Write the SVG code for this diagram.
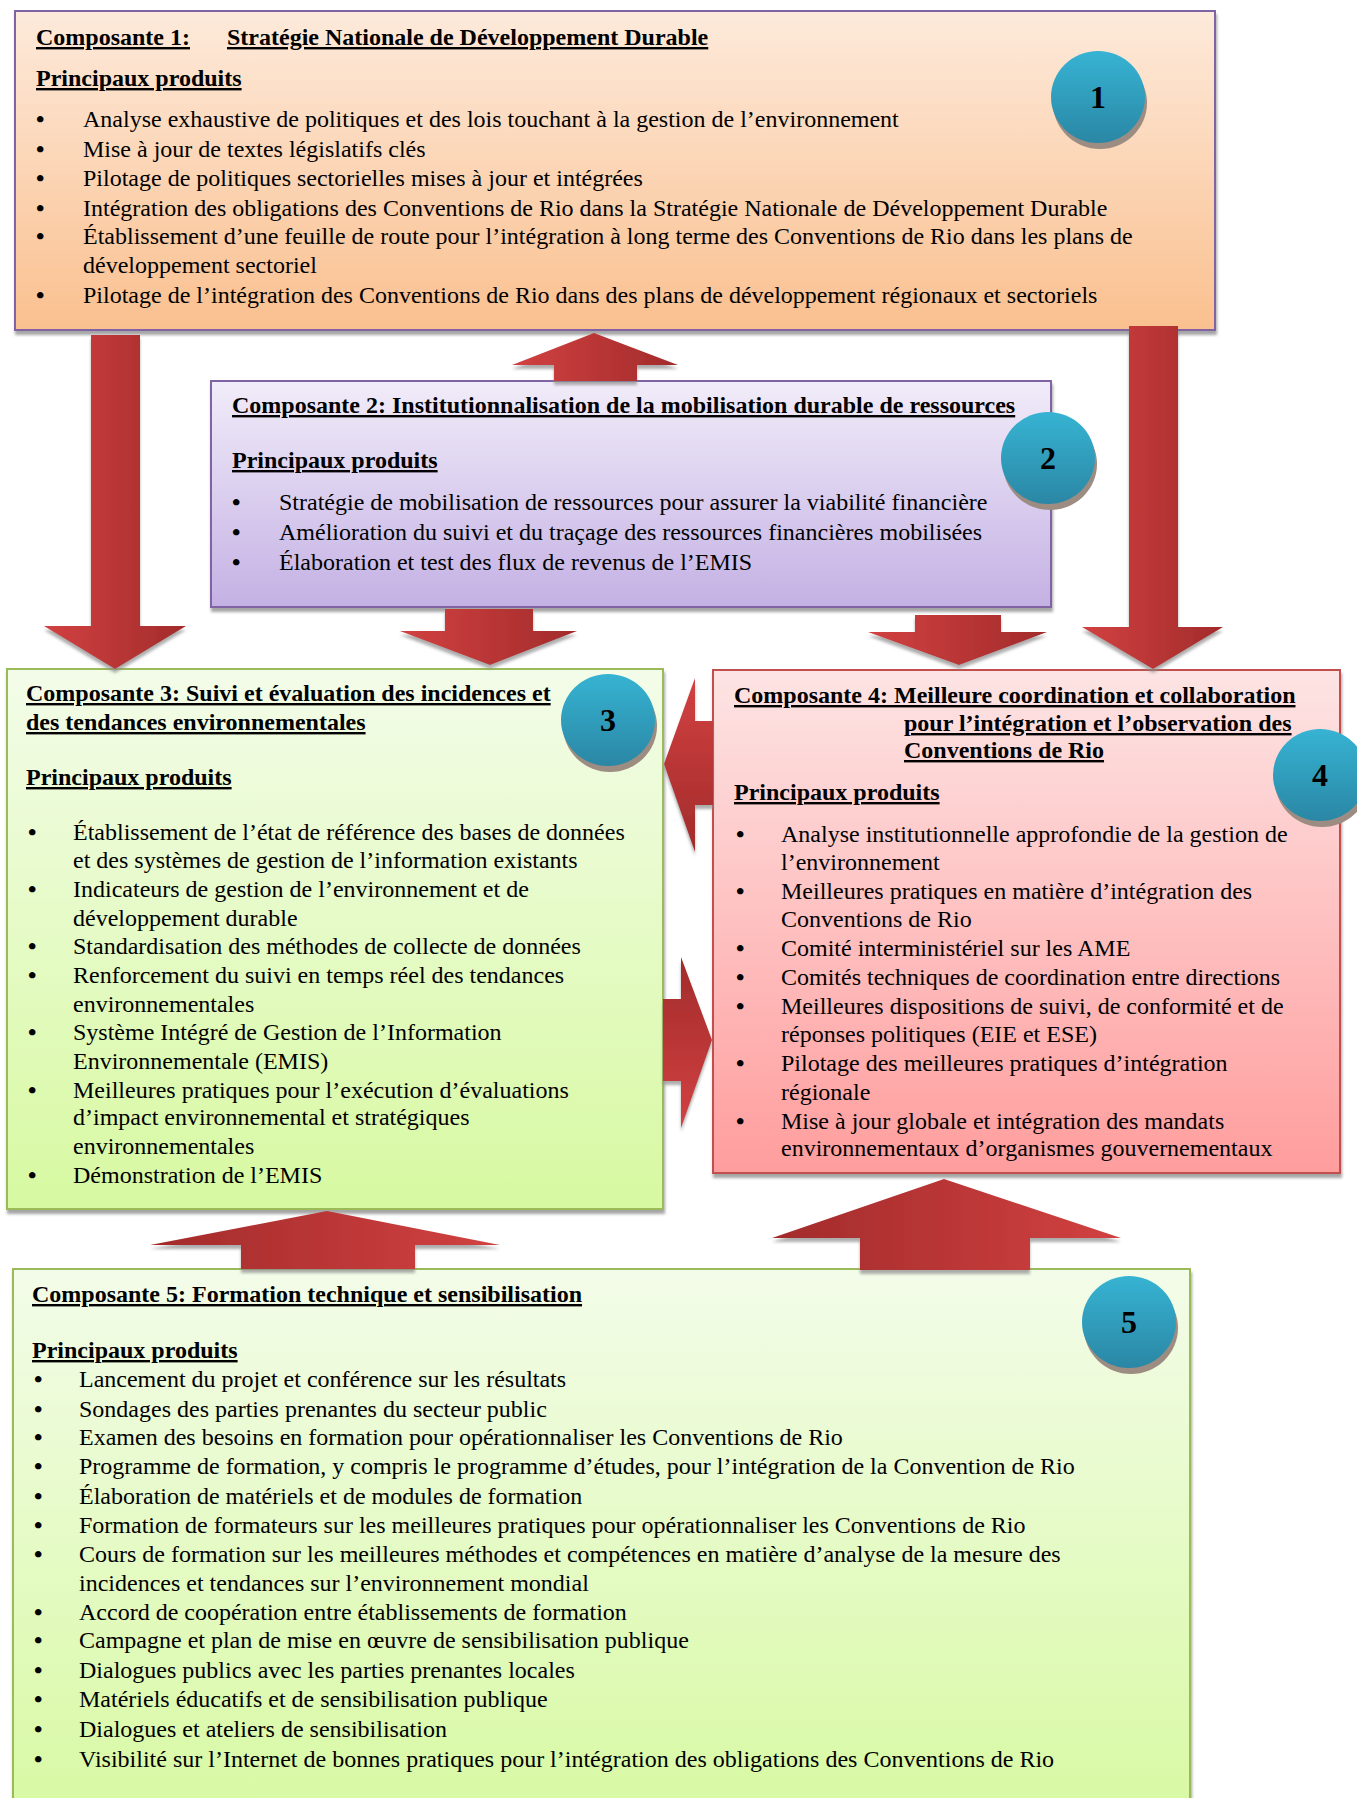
<svg xmlns="http://www.w3.org/2000/svg" width="1357" height="1798" viewBox="0 0 1357 1798">
<defs>
<linearGradient id="g1" x1="0" y1="0" x2="0" y2="1"><stop offset="0" stop-color="#fdeadb"/><stop offset="1" stop-color="#fac08f"/></linearGradient>
<linearGradient id="g2" x1="0" y1="0" x2="0" y2="1"><stop offset="0" stop-color="#f1ecf9"/><stop offset="1" stop-color="#c4b1e4"/></linearGradient>
<linearGradient id="g3" x1="0" y1="0" x2="0" y2="1"><stop offset="0" stop-color="#f3fce9"/><stop offset="1" stop-color="#d7f9a1"/></linearGradient>
<linearGradient id="g4" x1="0" y1="0" x2="0" y2="1"><stop offset="0" stop-color="#fde4e4"/><stop offset="1" stop-color="#ff9d9d"/></linearGradient>
<linearGradient id="gb" x1="0" y1="0" x2="0" y2="1"><stop offset="0" stop-color="#37b3d3"/><stop offset="1" stop-color="#2a87a5"/></linearGradient>
<linearGradient id="ad" x1="0" y1="0" x2="1" y2="0"><stop offset="0" stop-color="#d24141"/><stop offset="1" stop-color="#a22b2b"/></linearGradient>
<linearGradient id="au" x1="0" y1="0" x2="1" y2="0"><stop offset="0" stop-color="#a22b2b"/><stop offset="1" stop-color="#d24141"/></linearGradient>
<linearGradient id="al" x1="0" y1="0" x2="0" y2="1"><stop offset="0" stop-color="#d24141"/><stop offset="1" stop-color="#a22b2b"/></linearGradient>
<linearGradient id="ar" x1="0" y1="0" x2="0" y2="1"><stop offset="0" stop-color="#a22b2b"/><stop offset="1" stop-color="#d24141"/></linearGradient>
<filter id="sh" x="-5%" y="-5%" width="110%" height="115%"><feDropShadow dx="1" dy="4" stdDeviation="1.5" flood-color="#7f7f7f" flood-opacity="0.7"/></filter>
<filter id="ash" x="-10%" y="-10%" width="120%" height="125%"><feDropShadow dx="0" dy="4" stdDeviation="1.5" flood-color="#8a8a8a" flood-opacity="0.7"/></filter>
</defs>
<style>
text{font-family:"Liberation Serif","Times New Roman",serif;font-size:24px;fill:#000}
.t{font-weight:bold;text-decoration:underline}
.n{font-weight:bold;font-size:32px;text-anchor:middle}
.b{font-weight:bold}
.box{stroke-width:2}
</style>

<g id="node1">
<rect class="box" x="15" y="11" width="1200" height="319" fill="url(#g1)" stroke="#8064a2" filter="url(#sh)"/>
<text class="t" x="36" y="45">Composante 1:</text>
<text class="t" x="227" y="45">Stratégie Nationale de Développement Durable</text>
<text class="t" x="36" y="86">Principaux produits</text>
<text class="b" x="36" y="127">•</text><text x="83" y="127">Analyse exhaustive de politiques et des lois touchant à la gestion de l’environnement</text>
<text class="b" x="36" y="157">•</text><text x="83" y="157">Mise à jour de textes législatifs clés</text>
<text class="b" x="36" y="186">•</text><text x="83" y="186">Pilotage de politiques sectorielles mises à jour et intégrées</text>
<text class="b" x="36" y="216">•</text><text x="83" y="216">Intégration des obligations des Conventions de Rio dans la Stratégie Nationale de Développement Durable</text>
<text class="b" x="36" y="244">•</text><text x="83" y="244">Établissement d’une feuille de route pour l’intégration à long terme des Conventions de Rio dans les plans de</text>
<text x="83" y="273">développement sectoriel</text>
<text class="b" x="36" y="303">•</text><text x="83" y="303">Pilotage de l’intégration des Conventions de Rio dans des plans de développement régionaux et sectoriels</text>
<ellipse cx="1100" cy="103" rx="47" ry="46" fill="#9c8c82"/>
<ellipse cx="1098" cy="97" rx="47" ry="46" fill="url(#gb)"/>
<text class="n" x="1098" y="108">1</text>
</g>

<g id="node2">
<rect class="box" x="211" y="381" width="840" height="226" fill="url(#g2)" stroke="#8064a2" filter="url(#sh)"/>
<text class="t" x="232" y="413">Composante 2: Institutionnalisation de la mobilisation durable de ressources</text>
<text class="t" x="232" y="468">Principaux produits</text>
<text class="b" x="232" y="510">•</text><text x="279" y="510">Stratégie de mobilisation de ressources pour assurer la viabilité financière</text>
<text class="b" x="232" y="540">•</text><text x="279" y="540">Amélioration du suivi et du traçage des ressources financières mobilisées</text>
<text class="b" x="232" y="570">•</text><text x="279" y="570">Élaboration et test des flux de revenus de l’EMIS</text>
<ellipse cx="1050" cy="464" rx="47" ry="46" fill="#9c8c82"/>
<ellipse cx="1048" cy="458" rx="47" ry="46" fill="url(#gb)"/>
<text class="n" x="1048" y="469">2</text>
</g>

<g id="node3">
<rect class="box" x="7" y="669" width="656" height="540" fill="url(#g3)" stroke="#9bbb59" filter="url(#sh)"/>
<text class="t" x="26" y="701">Composante 3: Suivi et évaluation des incidences et</text>
<text class="t" x="26" y="730">des tendances environnementales</text>
<text class="t" x="26" y="785">Principaux produits</text>
<text class="b" x="28" y="840">•</text><text x="73" y="840">Établissement de l’état de référence des bases de données</text>
<text x="73" y="868">et des systèmes de gestion de l’information existants</text>
<text class="b" x="28" y="897">•</text><text x="73" y="897">Indicateurs de gestion de l’environnement et de</text>
<text x="73" y="926">développement durable</text>
<text class="b" x="28" y="954">•</text><text x="73" y="954">Standardisation des méthodes de collecte de données</text>
<text class="b" x="28" y="983">•</text><text x="73" y="983">Renforcement du suivi en temps réel des tendances</text>
<text x="73" y="1012">environnementales</text>
<text class="b" x="28" y="1040">•</text><text x="73" y="1040">Système Intégré de Gestion de l’Information</text>
<text x="73" y="1069">Environnementale (EMIS)</text>
<text class="b" x="28" y="1098">•</text><text x="73" y="1098">Meilleures pratiques pour l’exécution d’évaluations</text>
<text x="73" y="1125">d’impact environnemental et stratégiques</text>
<text x="73" y="1154">environnementales</text>
<text class="b" x="28" y="1183">•</text><text x="73" y="1183">Démonstration de l’EMIS</text>
<ellipse cx="610" cy="726" rx="47" ry="46" fill="#9c8c82"/>
<ellipse cx="608" cy="720" rx="47" ry="46" fill="url(#gb)"/>
<text class="n" x="608" y="731">3</text>
</g>

<g id="node4">
<rect class="box" x="713" y="670" width="627" height="503" fill="url(#g4)" stroke="#c0504d" filter="url(#sh)"/>
<text class="t" x="734" y="703">Composante 4: Meilleure coordination et collaboration</text>
<text class="t" x="904" y="731">pour l’intégration et l’observation des</text>
<text class="t" x="904" y="758">Conventions de Rio</text>
<text class="t" x="734" y="800">Principaux produits</text>
<text class="b" x="736" y="842">•</text><text x="781" y="842">Analyse institutionnelle approfondie de la gestion de</text>
<text x="781" y="870">l’environnement</text>
<text class="b" x="736" y="899">•</text><text x="781" y="899">Meilleures pratiques en matière d’intégration des</text>
<text x="781" y="927">Conventions de Rio</text>
<text class="b" x="736" y="956">•</text><text x="781" y="956">Comité interministériel sur les AME</text>
<text class="b" x="736" y="985">•</text><text x="781" y="985">Comités techniques de coordination entre directions</text>
<text class="b" x="736" y="1014">•</text><text x="781" y="1014">Meilleures dispositions de suivi, de conformité et de</text>
<text x="781" y="1042">réponses politiques (EIE et ESE)</text>
<text class="b" x="736" y="1071">•</text><text x="781" y="1071">Pilotage des meilleures pratiques d’intégration</text>
<text x="781" y="1100">régionale</text>
<text class="b" x="736" y="1129">•</text><text x="781" y="1129">Mise à jour globale et intégration des mandats</text>
<text x="781" y="1156">environnementaux d’organismes gouvernementaux</text>
<ellipse cx="1322" cy="781" rx="47" ry="46" fill="#9c8c82"/>
<ellipse cx="1320" cy="775" rx="47" ry="46" fill="url(#gb)"/>
<text class="n" x="1320" y="786">4</text>
</g>

<g id="node5">
<rect class="box" x="13" y="1269" width="1177" height="560" fill="url(#g3)" stroke="#9bbb59" filter="url(#sh)"/>
<text class="t" x="32" y="1302">Composante 5: Formation technique et sensibilisation</text>
<text class="t" x="32" y="1358">Principaux produits</text>
<text class="b" x="34" y="1387">•</text><text x="79" y="1387">Lancement du projet et conférence sur les résultats</text>
<text class="b" x="34" y="1417">•</text><text x="79" y="1417">Sondages des parties prenantes du secteur public</text>
<text class="b" x="34" y="1445">•</text><text x="79" y="1445">Examen des besoins en formation pour opérationnaliser les Conventions de Rio</text>
<text class="b" x="34" y="1474">•</text><text x="79" y="1474">Programme de formation, y compris le programme d’études, pour l’intégration de la Convention de Rio</text>
<text class="b" x="34" y="1504">•</text><text x="79" y="1504">Élaboration de matériels et de modules de formation</text>
<text class="b" x="34" y="1533">•</text><text x="79" y="1533">Formation de formateurs sur les meilleures pratiques pour opérationnaliser les Conventions de Rio</text>
<text class="b" x="34" y="1562">•</text><text x="79" y="1562">Cours de formation sur les meilleures méthodes et compétences en matière d’analyse de la mesure des</text>
<text x="79" y="1591">incidences et tendances sur l’environnement mondial</text>
<text class="b" x="34" y="1620">•</text><text x="79" y="1620">Accord de coopération entre établissements de formation</text>
<text class="b" x="34" y="1648">•</text><text x="79" y="1648">Campagne et plan de mise en œuvre de sensibilisation publique</text>
<text class="b" x="34" y="1678">•</text><text x="79" y="1678">Dialogues publics avec les parties prenantes locales</text>
<text class="b" x="34" y="1707">•</text><text x="79" y="1707">Matériels éducatifs et de sensibilisation publique</text>
<text class="b" x="34" y="1737">•</text><text x="79" y="1737">Dialogues et ateliers de sensibilisation</text>
<text class="b" x="34" y="1767">•</text><text x="79" y="1767">Visibilité sur l’Internet de bonnes pratiques pour l’intégration des obligations des Conventions de Rio</text>
<ellipse cx="1131" cy="1328" rx="47" ry="46" fill="#9c8c82"/>
<ellipse cx="1129" cy="1322" rx="47" ry="46" fill="url(#gb)"/>
<text class="n" x="1129" y="1333">5</text>
</g>

<g id="connectors" filter="url(#ash)">
<polygon points="91,335 140,335 140,626 186,626 115,669 44,626 91,626" fill="url(#ad)"/>
<polygon points="1129,326 1178,326 1178,627 1223,627 1153,669 1082,627 1129,627" fill="url(#ad)"/>
<polygon points="445,609 533,609 533,631 577,631 490,665 400,631 445,631" fill="url(#ad)"/>
<polygon points="915,615 1001,615 1001,632 1047,632 959,665 868,632 915,632" fill="url(#ad)"/>
<polygon points="594,333 678,365 637,365 637,381 554,381 554,365 512,365" fill="url(#ad)"/>
<polygon points="327,1211 500,1245 415,1245 415,1269 241,1269 241,1245 150,1245" fill="url(#au)"/>
<polygon points="944,1179 1121,1238 1030,1238 1030,1270 860,1270 860,1238 772,1238" fill="url(#au)"/>
<polygon points="664,764 695,678 695,721 713,721 713,805 695,805 695,852" fill="url(#al)"/>
<polygon points="712,1040 681,1128 681,1081 663,1081 663,999 681,999 681,957" fill="url(#ar)"/>
</g>
</svg>
